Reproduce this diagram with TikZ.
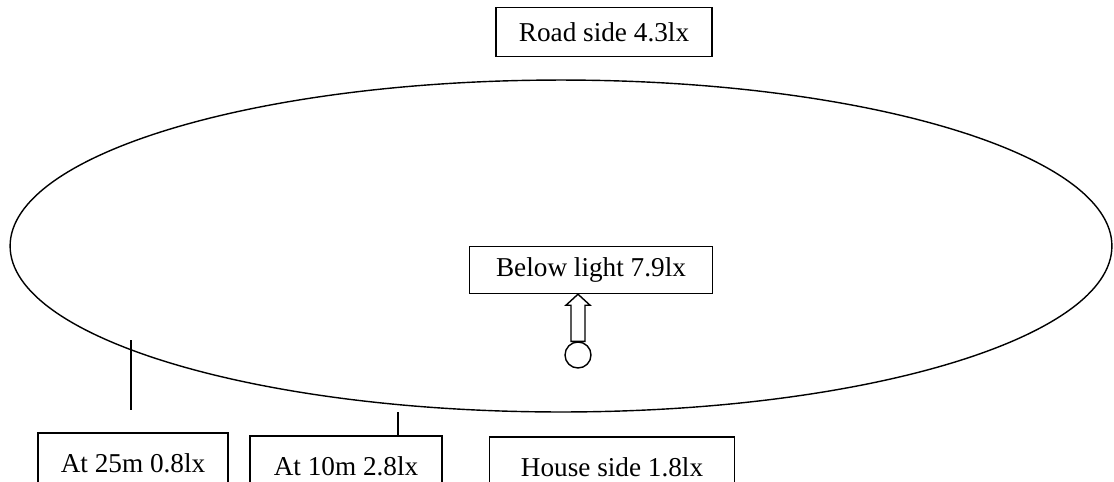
\documentclass[tikz,border=0pt]{standalone}
\usepackage{fontspec}
\setmainfont{Liberation Serif}
\usetikzlibrary{calc}
\tikzset{
  lxbox/.style={draw, line width=0.8pt, inner sep=0pt, font=\fontsize{15.5}{18}\selectfont},
}
\begin{document}
\begin{tikzpicture}[x=0.02cm,y=-0.02cm,line width=0.8pt]
\useasboundingbox (0,0) rectangle (1114,481) ;
\clip (0,0) rectangle (1114,481) ;
\draw (561,246) ellipse [x radius=11.02cm, y radius=3.32cm] ;
\node[lxbox, minimum width=4.32cm, minimum height=0.98cm] (road)  at (604,32)  {Road side 4.3lx} ;
\node[lxbox, minimum width=4.86cm, minimum height=0.94cm] (below) at (591,270) {Below light 7.9lx} ;
\node[lxbox, minimum width=3.80cm, minimum height=1.2cm]  (b25)   at (133,463) {At 25m 0.8lx} ;
\node[lxbox, minimum width=3.84cm, minimum height=1.2cm]  (b10)   at (346,466) {At 10m 2.8lx} ;
\node[lxbox, minimum width=4.90cm, minimum height=1.2cm]  (house) at (612,467) {House side 1.8lx} ;
% lamp and hollow arrow
\node[draw, circle, minimum size=0.52cm, inner sep=0pt] (lamp) at (578,355) {} ;
\coordinate (tip) at (lamp.north |- below.south) ;
\draw ($(lamp.north)+(-7,0)$) -- ($(tip)+(-7,11)$) -- ($(tip)+(-12,11)$) -- (tip)
      -- ($(tip)+(12,11)$) -- ($(tip)+(7,11)$) -- ($(lamp.north)+(7,0)$) -- cycle ;
% measuring points
\coordinate (p25) at (131,340) ;
\draw (p25) -- (p25 |- 0,410) ;
\coordinate (p10) at (398,412) ;
\draw (p10) -- (p10 |- b10.north) ;
\end{tikzpicture}
\end{document}
